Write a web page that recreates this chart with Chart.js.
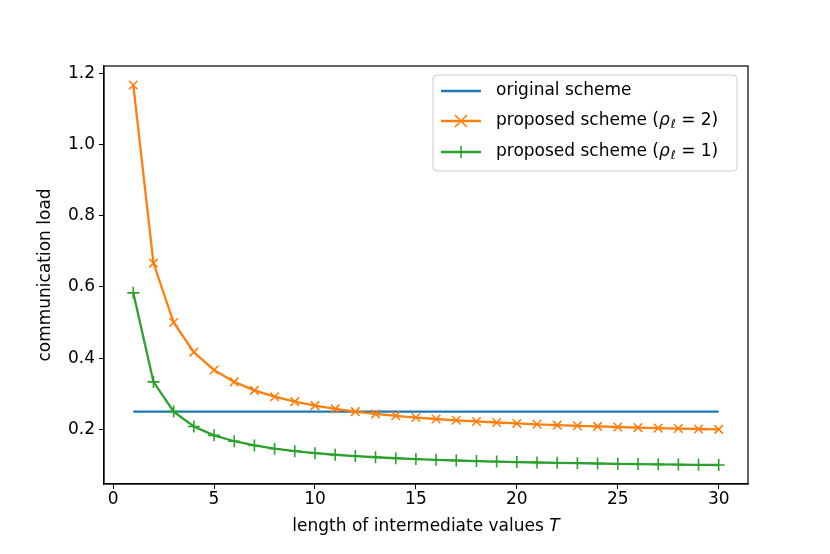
<!DOCTYPE html>
<html>
<head>
<meta charset="utf-8">
<script src="https://cdn.jsdelivr.net/npm/chart.js@4"></script>
<style>
  html, body { margin: 0; padding: 0; background: #fff; }
  #wrap { width: 830px; height: 554px; }
</style>
</head>
<body>
<div id="wrap"><canvas id="loadChart" width="830" height="554"></canvas></div>
<script>
// values
const T = [1, 2, 3, 4, 5, 6, 7, 8, 9, 10, 11, 12, 13, 14, 15, 16, 17, 18, 19, 20, 21, 22, 23, 24, 25, 26, 27, 28, 29, 30];
const original = [0.25, 0.25, 0.25, 0.25, 0.25, 0.25, 0.25, 0.25, 0.25, 0.25, 0.25, 0.25, 0.25, 0.25, 0.25,
  0.25, 0.25, 0.25, 0.25, 0.25, 0.25, 0.25, 0.25, 0.25, 0.25, 0.25, 0.25, 0.25, 0.25, 0.25];
const proposed2 = [1.1667, 0.6667, 0.5, 0.4167, 0.3667, 0.3333, 0.3095, 0.2917, 0.2778, 0.2667,
  0.2576, 0.25, 0.2436, 0.2381, 0.2333, 0.2292, 0.2255, 0.2222, 0.2193, 0.2167,
  0.2143, 0.2121, 0.2101, 0.2083, 0.2067, 0.2051, 0.2037, 0.2024, 0.2011, 0.2];
const proposed1 = [0.5833, 0.3333, 0.25, 0.2083, 0.1833, 0.1667, 0.1548, 0.1458, 0.1389, 0.1333,
  0.1288, 0.125, 0.1218, 0.119, 0.1167, 0.1146, 0.1127, 0.1111, 0.1096, 0.1083,
  0.1071, 0.1061, 0.1051, 0.1042, 0.1033, 0.1026, 0.1019, 0.1012, 0.1006, 0.1];
const xTicks = [0, 5, 10, 15, 20, 25, 30];
const yTicks = [0.2, 0.4, 0.6, 0.8, 1.0, 1.2];

const FONT = "'DejaVu Sans', sans-serif";
const FS = 17;
const BLUE = '#1f77b4', ORANGE = '#ff7f0e', GREEN = '#2ca02c';

const toXY = arr => arr.map((v, i) => ({ x: T[i], y: v }));

// frame on all four sides + x title with italic T
const frameAndTitles = {
  id: 'frameAndTitles',
  afterDraw(chart) {
    const ctx = chart.ctx;
    const a = chart.chartArea;
    ctx.save();
    ctx.strokeStyle = '#000';
    ctx.lineWidth = 1.2;
    ctx.strokeRect(a.left, a.top, a.right - a.left, a.bottom - a.top);

    ctx.fillStyle = '#000';
    ctx.textBaseline = 'middle';
    ctx.textAlign = 'left';
    const main = 'length of intermediate values ';
    ctx.font = FS + 'px ' + FONT;
    const w1 = ctx.measureText(main).width;
    ctx.font = 'italic ' + FS + 'px ' + FONT;
    const w2 = ctx.measureText('T').width;
    const sx = (a.left + a.right) / 2 - (w1 + w2) / 2;
    ctx.font = FS + 'px ' + FONT;
    ctx.fillText(main, sx, 527);
    ctx.font = 'italic ' + FS + 'px ' + FONT;
    ctx.fillText('T', sx + w1, 527);
    ctx.restore();
  }
};

// legend drawn by hand because of the subscript ρℓ
const legendBox = {
  id: 'legendBox',
  afterDraw(chart) {
    const ctx = chart.ctx;
    const x0 = 433, y0 = 75, w = 304, h = 96;
    ctx.save();
    ctx.beginPath();
    ctx.roundRect(x0, y0, w, h, 4);
    ctx.fillStyle = 'rgba(255,255,255,0.8)';
    ctx.fill();
    ctx.strokeStyle = '#cccccc';
    ctx.lineWidth = 1;
    ctx.stroke();

    const rows = [
      { color: BLUE, mark: null, y: 91, parts: [['original scheme', 'n']] },
      { color: ORANGE, mark: 'x', y: 121, parts: [['proposed scheme (', 'n'], ['ρ', 'i'], ['ℓ', 's'], [' = 2)', 'n']] },
      { color: GREEN, mark: '+', y: 152, parts: [['proposed scheme (', 'n'], ['ρ', 'i'], ['ℓ', 's'], [' = 1)', 'n']] }
    ];
    rows.forEach(r => {
      ctx.strokeStyle = r.color;
      ctx.lineWidth = 2.3;
      ctx.beginPath();
      ctx.moveTo(441, r.y);
      ctx.lineTo(481, r.y);
      ctx.stroke();
      const cx = 461, s = 6;
      ctx.lineWidth = 1.6;
      if (r.mark === 'x') {
        ctx.beginPath();
        ctx.moveTo(cx - s, r.y - s); ctx.lineTo(cx + s, r.y + s);
        ctx.moveTo(cx - s, r.y + s); ctx.lineTo(cx + s, r.y - s);
        ctx.stroke();
      } else if (r.mark === '+') {
        ctx.beginPath();
        ctx.moveTo(cx, r.y - s); ctx.lineTo(cx, r.y + s);
        ctx.stroke();
      }
      let tx = 496;
      ctx.fillStyle = '#000';
      ctx.textBaseline = 'middle';
      ctx.textAlign = 'left';
      r.parts.forEach(([txt, kind]) => {
        if (kind === 'n') ctx.font = FS + 'px ' + FONT;
        else if (kind === 'i') ctx.font = 'italic ' + FS + 'px ' + FONT;
        else ctx.font = 'italic 12px ' + FONT;
        const dy = kind === 's' ? 4 : 0;
        ctx.fillText(txt, tx, r.y + dy);
        tx += ctx.measureText(txt).width + (kind === 'i' ? 1 : 0);
      });
    });
    ctx.restore();
  }
};

const config = {
  type: 'line',
  data: {
    datasets: [
      {
        label: 'original scheme',
        data: toXY(original),
        borderColor: BLUE,
        borderWidth: 2.3,
        pointRadius: 0,
        order: 3
      },
      {
        label: 'proposed scheme (ρℓ = 2)',
        data: toXY(proposed2),
        borderColor: ORANGE,
        borderWidth: 2.3,
        pointStyle: 'crossRot',
        pointRadius: 6,
        pointBorderWidth: 1.6,
        pointBorderColor: ORANGE,
        order: 2
      },
      {
        label: 'proposed scheme (ρℓ = 1)',
        data: toXY(proposed1),
        borderColor: GREEN,
        borderWidth: 2.3,
        pointStyle: 'cross',
        pointRadius: 6,
        pointBorderWidth: 1.6,
        pointBorderColor: GREEN,
        order: 1
      }
    ]
  },
  options: {
    responsive: false,
    animation: false,
    events: [],
    layout: { padding: { left: 35, right: 82, top: 66, bottom: 0 } },
    plugins: {
      legend: { display: false },
      tooltip: { enabled: false }
    },
    scales: {
      x: {
        type: 'linear',
        min: -0.45,
        max: 31.45,
        afterBuildTicks: s => { s.ticks = xTicks.map(v => ({ value: v })); },
        afterFit: s => { s.height = 70; },
        grid: { drawOnChartArea: false, color: '#000', tickLength: 5, tickWidth: 1 },
        border: { color: '#000', width: 1.2 },
        ticks: { color: '#000', font: { family: FONT, size: FS }, padding: 0, maxRotation: 0 }
      },
      y: {
        type: 'linear',
        min: 0.0467,
        max: 1.22,
        afterBuildTicks: s => { s.ticks = yTicks.map(v => ({ value: v })); },
        afterFit: s => { s.width = 69; },
        grid: { drawOnChartArea: false, color: '#000', tickLength: 5, tickWidth: 1 },
        border: { color: '#000', width: 1.2 },
        ticks: { color: '#000', font: { family: FONT, size: FS }, padding: 4,
          callback: v => v.toFixed(1) },
        title: { display: true, text: 'communication load', color: '#000',
          font: { family: FONT, size: FS }, padding: 0 }
      }
    }
  },
  plugins: [legendBox, frameAndTitles]
};

new Chart(document.getElementById('loadChart'), config);
</script>
</body>
</html>
